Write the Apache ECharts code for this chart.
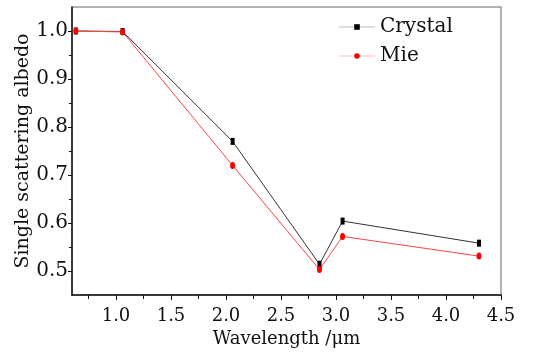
<!DOCTYPE html>
<html>
<head>
<meta charset="utf-8">
<script src="https://cdn.jsdelivr.net/npm/echarts@6/dist/echarts.min.js"></script>
<style>html,body{margin:0;padding:0;background:#fff}#c{width:535px;height:354px}</style>
</head>
<body>
<div id="c"></div>
<script>
const wavelengths = [0.635, 1.06, 2.06, 2.85, 3.06, 4.3];
const crystal = [1.0, 0.999, 0.770, 0.514, 0.604, 0.558];
const mie = [1.0, 0.998, 0.720, 0.503, 0.572, 0.531];
const xMajorTicks = [1.0, 1.5, 2.0, 2.5, 3.0, 3.5, 4.0, 4.5];
const xMinorTicks = [0.75, 1.25, 1.75, 2.25, 2.75, 3.25, 3.75, 4.25];
const yMajorTicks = [0.5, 0.6, 0.7, 0.8, 0.9, 1.0];
const yMinorTicks = [0.55, 0.65, 0.75, 0.85, 0.95];

const font = 'DejaVu Serif';
const chart = echarts.init(document.getElementById('c'));
const pairs = (ys) => wavelengths.map((x, i) => [x, ys[i]]);

chart.setOption({
  animation: false,
  backgroundColor: '#fff',
  grid: { left: 72, right: 34, top: 7, bottom: 59, show: true, borderColor: '#999', borderWidth: 1.5, backgroundColor: 'transparent' },
  legend: {
    orient: 'vertical', left: 333, top: 12, itemWidth: 36, itemHeight: 7, itemGap: 9,
    textStyle: { fontFamily: font, fontSize: 20, color: '#111' },
    data: [
      { name: 'Crystal', lineStyle: { color: '#ddd' } },
      { name: 'Mie', lineStyle: { color: '#fdd' } }
    ]
  },
  xAxis: [
    {
      type: 'value', min: 0.6, max: 4.5,
      name: 'Wavelength /μm', nameLocation: 'middle', nameGap: 34,
      nameTextStyle: { fontFamily: font, fontSize: 18, color: '#111' },
      axisLine: { lineStyle: { color: '#111', width: 1.5 } },
      axisTick: { inside: false, length: 5, customValues: xMajorTicks, lineStyle: { color: '#111' } },
      axisLabel: { customValues: xMajorTicks, margin: 12, fontFamily: font, fontSize: 18, color: '#111', formatter: v => v.toFixed(1) },
      splitLine: { show: false }
    },
    {
      type: 'value', min: 0.6, max: 4.5, position: 'bottom',
      axisLine: { show: false },
      axisTick: { inside: false, length: 4, customValues: xMinorTicks, lineStyle: { color: '#111' } },
      axisLabel: { show: false },
      splitLine: { show: false }
    }
  ],
  yAxis: [
    {
      type: 'value', min: 0.45, max: 1.05,
      name: 'Single scattering albedo', nameLocation: 'middle', nameGap: 39, nameMoveOverlap: false,
      nameTextStyle: { fontFamily: font, fontSize: 19, color: '#111' },
      axisLine: { show: true, lineStyle: { color: '#111', width: 1.5 } },
      axisTick: { show: true, inside: false, length: 4, customValues: yMajorTicks, lineStyle: { color: '#111' } },
      axisLabel: { customValues: yMajorTicks, margin: 4, fontFamily: font, fontSize: 20, color: '#111', formatter: v => v.toFixed(1) },
      splitLine: { show: false }
    },
    {
      type: 'value', min: 0.45, max: 1.05, position: 'left',
      axisLine: { show: false },
      axisTick: { show: true, inside: false, length: 3, customValues: yMinorTicks, lineStyle: { color: '#111' } },
      axisLabel: { show: false },
      splitLine: { show: false }
    }
  ],
  series: [
    {
      name: 'Crystal', type: 'line', data: pairs(crystal),
      symbol: 'rect', symbolSize: [4, 7],
      itemStyle: { color: '#000' },
      lineStyle: { color: '#333', width: 1 }
    },
    {
      name: 'Mie', type: 'line', data: pairs(mie),
      symbol: 'circle', symbolSize: [5, 7],
      itemStyle: { color: '#f00' },
      lineStyle: { color: '#f44', width: 1 }
    }
  ]
});
</script>
</body>
</html>
